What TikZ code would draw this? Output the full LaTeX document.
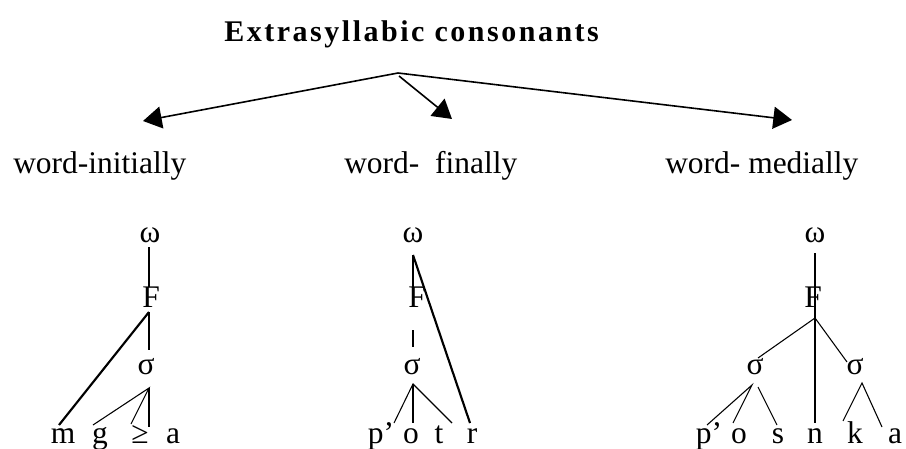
\documentclass[tikz,border=0pt]{standalone}
\usepackage{fontspec}
\setmainfont{Liberation Serif}
\newfontfamily\headfont[LetterSpace=8.4]{Liberation Serif}
\usetikzlibrary{arrows.meta,calc}

\tikzset{
  heading/.style={font=\headfont\bfseries\fontsize{22.5}{27}\selectfont,inner sep=0pt,anchor=base west},
  position/.style={font=\fontsize{23.6}{28}\selectfont,inner sep=0pt,anchor=base west},
  seg/.style={font=\fontsize{23.6}{28}\selectfont,inner sep=0pt,anchor=base},
  branch/.style={line width=1.2pt,-{Triangle[length=14pt,width=16.5pt]}},
  assoc/.style={line width=0.8pt},
  extra/.style={line width=1.6pt},
}

\begin{document}
\begin{tikzpicture}[x=0.75pt,y=-0.75pt]
  \useasboundingbox (0,0) rectangle (906,449);

  % heading and the three positions
  \node[heading] (title) at (224,42) {Extrasyllabic consonants};
  \coordinate (split) at (398,73);
  \coordinate (tipinit) at (143,121);
  \coordinate (tipfin) at (452,119);
  \coordinate (tipmed) at (792,120);
  \node[position] (initially) at (13,174) {word-initially};
  \node[position] (finally) at (344,174) {word-\ \ finally};
  \node[position] (medially) at (665,174) {word- medially};
  \draw[branch] (split) -- (tipinit);
  \draw[branch] ($(split)+(1,3)$) -- (tipfin);
  \draw[branch] (split) -- (tipmed);

  % word-initially: m g ≥ a
  \node[seg] (wI) at (150,242) {ω};
  \node[seg] (FI) at (151,307) {F};
  \node[seg] (sI) at (146,374) {σ};
  \node[seg] (mI) at (63,443) {m};
  \node[seg] (gI) at (100,443) {g};
  \node[seg] (geI) at (140,443) {≥};
  \node[seg] (aI) at (173,443) {a};
  \draw[assoc] ($(wI.base)+(-1,5)$) -- ($(FI.base)+(-2,-20)$);
  \draw[extra] ($(FI.base)+(-2,5)$) -- ($(mI.base)+(-4,-18)$);
  \draw[assoc] ($(FI.base)+(-2,5)$) -- ($(sI.base)+(3,-24)$);
  \draw[assoc] ($(gI.base)+(-7,-18)$) -- ($(sI.base)+(3,14)$)
    -- ($(geI.base)+(-9,-19)$);
  \draw[assoc] ($(sI.base)+(3,14)$) -- ($(aI.base)+(-24,-16)$);

  % word-finally: p'o t r
  \node[seg] (wF) at (413,242) {ω};
  \node[seg] (FF) at (417,307) {F};
  \node[seg] (sF) at (412,374) {σ};
  \node[seg] (pF) at (381,443) {p’};
  \node[seg] (oF) at (411,443) {o};
  \node[seg] (tF) at (439,443) {t};
  \node[seg] (rF) at (472,443) {r};
  \draw[assoc] ($(wF.base)+(0,13)$) -- ($(FF.base)+(-4,-20)$);
  \draw[extra] ($(wF.base)+(0,13)$) -- ($(rF.base)+(-2,-20)$);
  \draw[assoc] ($(FF.base)+(-4,23)$) -- ($(sF.base)+(1,-27)$);
  \draw[assoc] ($(pF.base)+(13,-20)$) -- ($(sF.base)+(1,10)$)
    -- ($(tF.base)+(13,-20)$);
  \draw[assoc] ($(sF.base)+(1,10)$) -- ($(oF.base)+(2,-20)$);

  % word-medially: p'o s n k a
  \node[seg] (wM) at (815,242) {ω};
  \node[seg] (FM) at (813,307) {F};
  \node[seg] (sLM) at (755,374) {σ};
  \node[seg] (sRM) at (855,374) {σ};
  \node[seg] (pM) at (709,443) {p’};
  \node[seg] (oM) at (739,443) {o};
  \node[seg] (sM) at (778,443) {s};
  \node[seg] (nM) at (815,443) {n};
  \node[seg] (kM) at (855,443) {k};
  \node[seg] (aM) at (895,443) {a};
  \draw[extra] ($(wM.base)+(0,11)$) -- ($(nM.base)+(0,-20)$);
  \draw[assoc] ($(sLM.base)+(3,-16)$) -- ($(FM.base)+(2,11)$)
    -- ($(sRM.base)+(-8,-12)$);
  \draw[assoc] ($(pM.base)+(-2,-18)$) -- ($(sLM.base)+(-3,11)$)
    -- ($(oM.base)+(-6,-20)$);
  \draw[assoc] ($(sLM.base)+(3,13)$) -- ($(sM.base)+(-1,-18)$);
  \draw[assoc] ($(kM.base)+(-12,-22)$) -- ($(sRM.base)+(7,9)$)
    -- ($(aM.base)+(-13,-16)$);
\end{tikzpicture}
\end{document}
